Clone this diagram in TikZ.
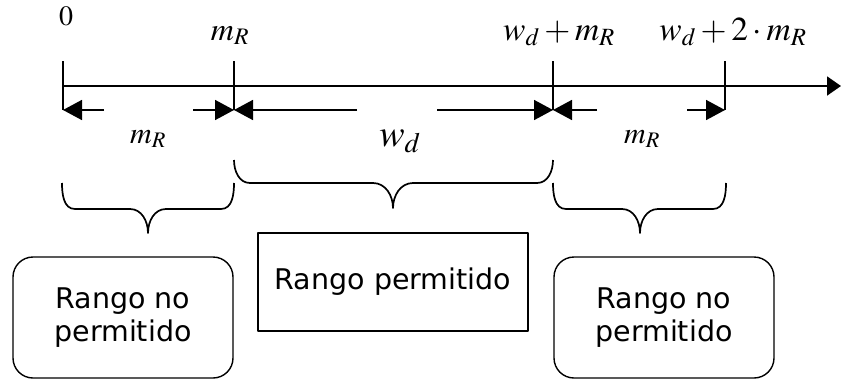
\documentclass[tikz,border=0pt]{standalone}
\usepackage{mathptmx}
\usepackage[no-math]{fontspec}
\newfontfamily\boxfont{DejaVu Sans}
\usetikzlibrary{arrows.meta}

\tikzset{
  axisline/.style={line width=2pt},
  ticklines/.style={line width=1.6pt},
  dimarrow/.style={line width=1.6pt,-{Triangle[length=19pt,width=20pt]}},
  rangebrace/.style={line width=1.7pt},
  rangebox/.style={draw,line width=1.4pt,align=center,
    font=\boxfont\fontsize{28.5}{33}\selectfont},
  toplabel/.style={anchor=base,font=\fontsize{32}{38}\selectfont},
}

\begin{document}
\begin{tikzpicture}[x=1pt,y=-1pt,line join=round]
  \useasboundingbox (0,0) rectangle (841,381);
  % axis and ticks
  \coordinate (O) at (63,86);
  \coordinate (E) at (841,86);
  \draw[axisline,-{Triangle[length=14pt,width=19pt]}] (O) -- (E);
  \coordinate (t0) at (63,61);   \coordinate (b0) at (63,110);
  \coordinate (t1) at (234,61);  \coordinate (b1) at (234,110);
  \coordinate (t2) at (553,61);  \coordinate (b2) at (553,110);
  \coordinate (t3) at (725,61);  \coordinate (b3) at (725,110);
  \foreach \i in {0,...,3}
    \draw[ticklines] (t\i) -- (b\i);
  \node[toplabel,font=\fontsize{28}{34}\selectfont] (l0) at (66,25) {$0$};
  \node[toplabel] (l1) at (230,40) {$m_R$};
  \node[toplabel,font=\fontsize{33.5}{40}\selectfont] (l2) at (559,40) {$w_d+m_R$};
  \node[toplabel,font=\fontsize{33.5}{40}\selectfont] (l3) at (733,40) {$w_d+2\cdot m_R$};
  % dimension arrows
  \draw[dimarrow] ([xshift=41pt]b0) -- (b0);
  \draw[dimarrow] ([xshift=-41pt]b1) -- (b1);
  \draw[dimarrow] ([xshift=123pt]b1) -- (b1);
  \draw[dimarrow] ([xshift=-116pt]b2) -- (b2);
  \draw[dimarrow] ([xshift=44pt]b2) -- (b2);
  \draw[dimarrow] ([xshift=-38pt]b3) -- (b3);
  \node[toplabel,font=\fontsize{30}{36}\selectfont] (d0) at (148,143) {$m_R$};
  \node[toplabel,font=\fontsize{38}{44}\selectfont] (d1) at (400,146) {$w_d$};
  \node[toplabel,font=\fontsize{30}{36}\selectfont] (d2) at (642,143) {$m_R$};
  % braces
  \draw[rangebrace] (62,183) to[out=-90,in=180] (75,209) -- (130,209)
    to[out=0,in=90] (148,233) to[out=90,in=180] (166,209) -- (221,209)
    to[out=0,in=-90] (234,183);
  \draw[rangebrace] (234,160) to[out=-90,in=180] (250,183) -- (373,183)
    to[out=0,in=90] (393,208) to[out=90,in=180] (413,183) -- (537,183)
    to[out=0,in=-90] (553,160);
  \draw[rangebrace] (553,183) to[out=-90,in=180] (566,209) -- (622,209)
    to[out=0,in=90] (640,233) to[out=90,in=180] (658,209) -- (713,209)
    to[out=0,in=-90] (726,183);
  % ranges
  \node[rangebox,rounded corners=20pt,minimum width=220pt,minimum height=121pt]
    (left) at (123,317.5) {Rango no\\permitido};
  \node[rangebox,minimum width=270pt,minimum height=98pt]
    (mid) at (393,282) {Rango permitido};
  \node[rangebox,rounded corners=20pt,minimum width=220pt,minimum height=121pt]
    (right) at (664,317.5) {Rango no\\permitido};
\end{tikzpicture}
\end{document}
